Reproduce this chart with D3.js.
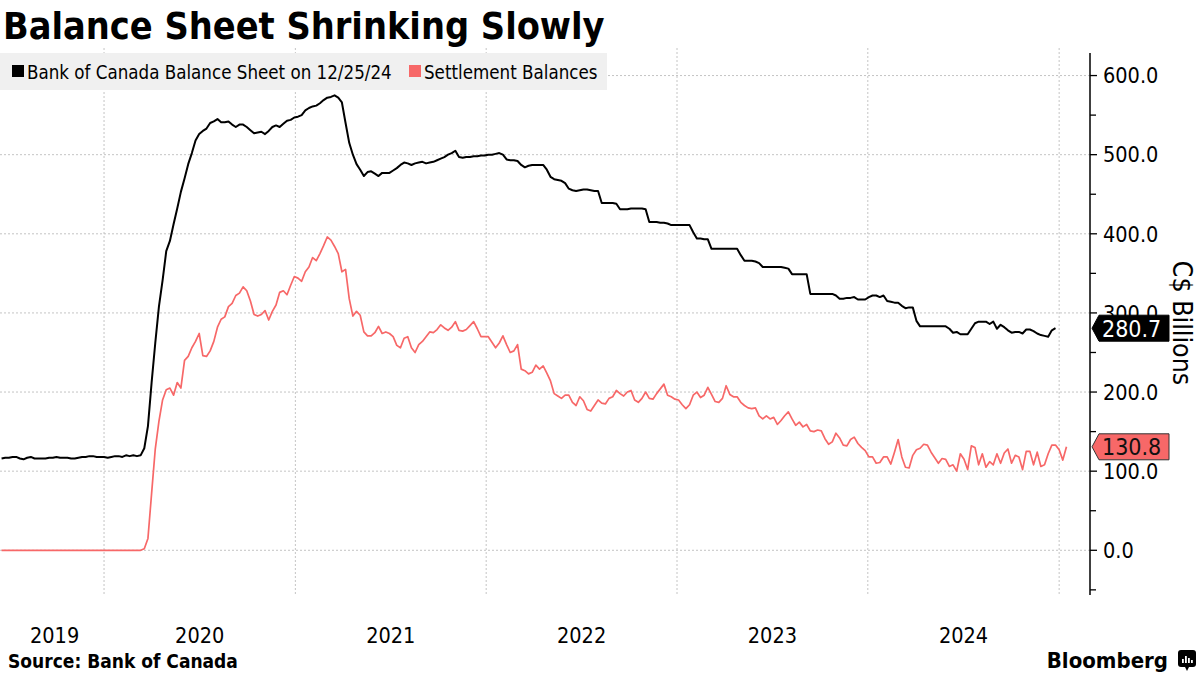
<!DOCTYPE html>
<html><head><meta charset="utf-8">
<script src="https://cdn.jsdelivr.net/npm/d3@7"></script>
<style>
html,body{margin:0;padding:0;background:#fff;}
svg{display:block;}
text{font-family:"DejaVu Sans Condensed","DejaVu Sans",sans-serif;}
</style></head>
<body>
<svg id="chart" width="1200" height="675"></svg>
<script>
// ---- data (weekly readings, starting 2019-06-19) ----
const title = "Balance Sheet Shrinking Slowly";
const seriesNames = ["Bank of Canada Balance Sheet on 12/25/24", "Settlement Balances"];
const seriesColors = ["#000000", "#f76868"];
const weekStart = "2019-06-19";
const balanceSheet = [
116,117,117,118,118,116,115,117,118,116,116,116,116,117,117,118,117,117,117,116,116,117,118,118,119,119,118,118,118,117,118,119,119,118,120,
119,120,119,
120,129,157,212,262,308,341,378,391,412,
432,453,470,488,502,518,526,530,533,540,542,545,
541,541,542,538,535,538,538,535,531,527,528,529,526,530,535,537,535,539,543,544,
547,548,550,556,559,561,562,565,569,572,573,575,572,566,540,515,500,488,481,473,
478,479,476,473,477,477,477,480,483,487,
490,489,487,489,490,491,489,490,491,493,495,497,500,502,505,497,496,497,497,498,
498,499,499,500,500,501,502,500,494,493,493,492,487,484,486,487,487,487,487,481,
472,469,468,467,464,457,455,454,455,456,456,455,454,454,439,439,439,439,438,431,
431,431,432,432,432,432,431,415,415,415,414,414,413,411,411,411,411,411,411,402,
394,394,393,393,381,381,381,381,381,381,381,381,373,366,366,366,365,363,358,358,
358,358,358,358,357,356,349,349,349,349,349,324,324,324,324,324,324,324,322,318,
318,319,319,320,317,317,317,320,322,322,320,322,315,314,313,313,309,306,307,307,
290,283,283,283,283,283,283,283,283,280,275,276,273,273,273,280,287,289,289,289,
286,289,280,285,282,278,275,276,276,274,279,279,277,274,272,271,270,278,280.7
];
const settlement = [
0,0,0,0,0,0,0,0,0,0,0,0,0,0,0,0,0,0,0,0,0,0,0,0,0,0,0,0,0,0,0,0,0,0,0,0,0,0,0,
2,15,72,128,163,190,203,205,196,212,205,240,245,256,264,274,246,245,252,264,282,
292,295,308,312,322,325,333,328,315,298,296,298,303,291,302,310,326,328,323,335,
346,344,340,352,358,370,366,375,385,396,392,384,375,352,355,318,296,302,297,276,
271,271,275,283,274,276,274,270,259,256,
268,270,256,250,260,264,270,276,275,279,285,281,278,282,289,278,277,279,284,289,
280,270,270,270,263,256,262,271,260,250,252,260,229,227,223,225,234,229,233,224,
214,198,195,192,196,196,187,183,194,189,178,176,183,190,186,185,192,194,202,198,
195,200,202,190,187,192,200,192,191,198,204,210,196,194,191,190,184,179,184,196,
200,193,196,206,197,188,187,192,208,197,194,194,187,183,180,179,180,170,166,170,
166,168,159,164,170,175,166,158,162,156,159,151,150,152,151,141,134,137,148,142,
133,132,140,143,135,130,126,118,118,110,111,118,118,109,124,140,118,105,104,120,
127,129,134,133,124,117,110,116,115,106,108,100,122,115,102,132,130,108,122,105,
112,108,122,110,123,128,110,120,118,102,125,125,108,124,106,108,122,133,133,127,114,130.8
];
const yTicks = [0,100,200,300,400,500,600];
const yMinorTicks = [-50,50,150,250,350,450,550];
const years = [2019,2020,2021,2022,2023,2024];
const gridYears = [2020,2021,2022,2023,2024,2025];
const yAxisTitle = "C$ Billions";
const sourceText = "Source: Bank of Canada";

// ---- chart ----
const svg = d3.select("#chart");
const parse = d3.timeParse("%Y-%m-%d");
const start = parse(weekStart);
const toSeries = arr => arr.map((v,i)=>({date:d3.timeDay.offset(start, 7*i), value:v}));
const bsData = toSeries(balanceSheet);
const stData = toSeries(settlement);

const axisX = 1090;
const x = d3.scaleTime().domain([new Date(2019,5,16), new Date(2025,2,1)]).range([0, axisX]);
const y = d3.scaleLinear().domain([-56, 628]).range([594.6, 53.4]);

// gridlines
const grid = svg.append("g");
grid.selectAll("line.h").data(yTicks).join("line")
  .attr("x1",0).attr("x2",axisX).attr("y1",d=>y(d)).attr("y2",d=>y(d))
  .attr("stroke","#c4c4c4").attr("stroke-width",1).attr("stroke-dasharray","2,2");
grid.selectAll("line.v").data(gridYears).join("line")
  .attr("x1",d=>x(new Date(d,0,1))).attr("x2",d=>x(new Date(d,0,1)))
  .attr("y1",48).attr("y2",595)
  .attr("stroke","#c4c4c4").attr("stroke-width",1).attr("stroke-dasharray","2,2");

// legend
const lg = svg.append("g");
lg.append("rect").attr("x",0).attr("y",53).attr("width",607).attr("height",37).attr("fill","#f0f0f0");
const legendItems = [{x:12, name:seriesNames[0], color:seriesColors[0]},{x:409, name:seriesNames[1], color:seriesColors[1]}];
legendItems.forEach(it=>{
  lg.append("rect").attr("x",it.x).attr("y",65).attr("width",12).attr("height",12).attr("fill",it.color);
  lg.append("text").attr("x",it.x+15).attr("y",78.5).attr("font-size",18.6).attr("fill","#000").text(it.name);
});

// lines
const line = d3.line().x(d=>x(d.date)).y(d=>y(d.value));
svg.append("path").datum(stData).attr("d",line).attr("fill","none")
  .attr("stroke",seriesColors[1]).attr("stroke-width",1.7).attr("stroke-linejoin","round");
svg.append("path").datum(bsData).attr("d",line).attr("fill","none")
  .attr("stroke",seriesColors[0]).attr("stroke-width",2).attr("stroke-linejoin","round");

// y axis
const ax = svg.append("g");
ax.append("line").attr("x1",axisX).attr("x2",axisX).attr("y1",53).attr("y2",595).attr("stroke","#000").attr("stroke-width",1.5);
ax.selectAll("line.maj").data(yTicks).join("line")
  .attr("x1",axisX).attr("x2",axisX+7).attr("y1",d=>y(d)).attr("y2",d=>y(d)).attr("stroke","#000").attr("stroke-width",1.3);
ax.selectAll("line.min").data(yMinorTicks).join("line")
  .attr("x1",axisX).attr("x2",axisX+6).attr("y1",d=>y(d)).attr("y2",d=>y(d)).attr("stroke","#000").attr("stroke-width",1.3);
ax.selectAll("text").data(yTicks).join("text")
  .attr("x",axisX+13).attr("y",d=>y(d)).attr("dy","0.36em").attr("font-size",21.5).attr("fill","#000")
  .text(d=>d3.format(".1f")(d));

// last value labels
function valueLabel(val, fill, stroke, textColor){
  const yy = y(val);
  const g = svg.append("g");
  const x0 = axisX+2, x1 = axisX+9, x2 = 1169, h = 13;
  g.append("path").attr("d",`M${x0},${yy} L${x1},${yy-h} L${x2},${yy-h} L${x2},${yy+h} L${x1},${yy+h} Z`)
    .attr("fill",fill).attr("stroke",stroke).attr("stroke-width",1);
  g.append("text").attr("x",axisX+12).attr("y",yy).attr("dy","0.37em").attr("font-size",23)
    .attr("fill",textColor).text(d3.format(".1f")(val));
}
valueLabel(balanceSheet[balanceSheet.length-1], "#000", "#000", "#fff");
valueLabel(settlement[settlement.length-1], "#f76868", "#333", "#111");

// y-axis title
svg.append("text").attr("transform",`translate(1173,323) rotate(90)`)
  .attr("text-anchor","middle").attr("font-size",26.5).attr("fill","#000").text(yAxisTitle);

// x labels
years.forEach(yr=>{
  const a = Math.max(x(new Date(yr,0,1)), 0);
  const b = Math.min(x(new Date(yr+1,0,1)), axisX);
  let cx = (a+b)/2;
  const t = svg.append("text").attr("y",643).attr("font-size",21.5).attr("text-anchor","middle").attr("fill","#000").text(yr);
  const w = t.node().getComputedTextLength();
  cx = Math.max(cx, 30 + w/2);
  t.attr("x",cx);
});

// title
svg.append("text").attr("x",3).attr("y",39).attr("font-size",37.5).attr("font-weight","bold").attr("fill","#000").text(title);

// source & logo
svg.append("text").attr("x",8).attr("y",668).attr("font-size",19).attr("font-weight","bold").attr("fill","#000").text(sourceText);
svg.append("text").attr("x",1168).attr("y",668).attr("text-anchor","end").attr("font-size",22).attr("font-weight","bold")
  .attr("fill","#000").text("Bloomberg");
const logo = svg.append("g").attr("transform","translate(1178,650)");
logo.append("rect").attr("x",0).attr("y",0).attr("width",18).attr("height",17).attr("rx",3).attr("fill","#000");
logo.append("path").attr("d","M7,17 L9,21 L11,17 Z").attr("fill","#000");
[[4,9],[7,6],[10,8],[13,10]].forEach(([bx,by])=>{
  logo.append("rect").attr("x",bx).attr("y",by).attr("width",1.8).attr("height",13-by).attr("fill","#fff");
});
</script>
</body></html>
